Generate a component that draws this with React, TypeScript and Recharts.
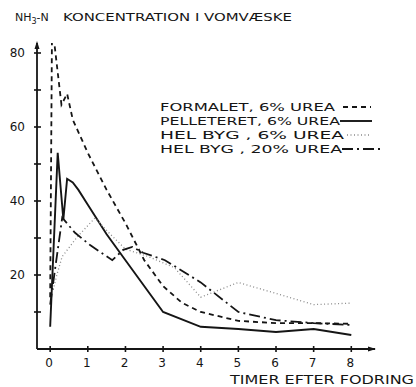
import React from 'react';
import { LineChart, Line, XAxis, YAxis, Legend, ReferenceDot } from 'recharts';

// ---- data (hours after feeding, NH3-N concentration) ----
const formaletT = [0, 0.05, 0.3, 0.45, 0.6, 1, 1.5, 2, 2.5, 3, 3.5, 4, 5, 6, 7, 8];
const formaletV = [14, 88, 66, 69, 62, 53, 43, 34, 24, 17, 12.5, 10, 7.6, 7, 7, 6.8];

const pelleteretT = [0, 0.2, 0.35, 0.45, 0.6, 0.75, 1, 1.5, 2, 3, 4, 5, 6, 7, 8];
const pelleteretV = [6, 53, 35, 46, 45, 43, 39, 31, 24, 10, 6, 5.4, 4.6, 5.4, 3.8];

const helByg6T = [0.08, 0.19, 0.32, 0.72, 1.19, 1.6, 2, 2.6, 3.3, 4, 5, 6, 7, 8];
const helByg6V = [16, 20.5, 25, 30.3, 35.4, 31, 27, 25, 22, 14, 18, 15, 12, 12.4];

const helByg20T = [0, 0.32, 0.66, 1.06, 1.65, 1.94, 2.18, 2.47, 3.05, 4, 5, 6, 7, 8];
const helByg20V = [12, 35.5, 31.4, 28.1, 24, 26.8, 27.6, 26, 24, 18, 10, 7.8, 7, 6.5];

const xTicks = [0, 1, 2, 3, 4, 5, 6, 7, 8];
const yTicks = [10, 20, 30, 40, 50, 60, 70, 80];
const yLabelTicks = [20, 40, 60, 80];

const titleText = 'KONCENTRATION I VOMVÆSKE';
const xAxisTitle = 'TIMER EFTER FODRING';

const INK = '#151515';
const FONT = '"DejaVu Sans", sans-serif';

const toPoints = (t: number[], v: number[]) => t.map((x, i) => ({ t: x, v: v[i] }));

const series = [
  { key: 'formalet', name: 'FORMALET, 6% UREA', data: toPoints(formaletT, formaletV), dash: '5 4', color: INK, width: 1.8, textLen: 175, lineFrom: 343, lineTo: 371 },
  { key: 'pelleteret', name: 'PELLETERET, 6% UREA', data: toPoints(pelleteretT, pelleteretV), dash: undefined, color: INK, width: 1.9, textLen: 180, lineFrom: 340, lineTo: 372 },
  { key: 'helbyg6', name: 'HEL BYG  ,  6% UREA', data: toPoints(helByg6T, helByg6V), dash: '1 2.5', color: '#8a8a8a', width: 1.3, textLen: 184, lineFrom: 347, lineTo: 371 },
  { key: 'helbyg20', name: 'HEL BYG , 20% UREA', data: toPoints(helByg20T, helByg20V), dash: '11 4 2 4', color: INK, width: 1.8, textLen: 182, lineFrom: 342, lineTo: 380 },
];

const legendRowsY = [111, 125, 139, 153];

const YTick = (props: any) => {
  const { x, y, payload } = props;
  const show = yLabelTicks.includes(payload.value);
  return (
    <g>
      <line x1={x - 3} x2={x + 4} y1={y} y2={y} stroke={INK} strokeWidth={1.6} />
      {show && (
        <text x={x - 12} y={y + 4.5} textAnchor="end" fontSize={12} fontFamily={FONT} fill={INK}>
          {payload.value}
        </text>
      )}
    </g>
  );
};

const XTick = (props: any) => {
  const { x, y, payload } = props;
  return (
    <g>
      <line x1={x} x2={x} y1={y - 3} y2={y + 3} stroke={INK} strokeWidth={1.6} />
      <text x={x - 1} y={y + 18} textAnchor="middle" fontSize={12} fontFamily={FONT} fill={INK}>
        {payload.value}
      </text>
    </g>
  );
};

const renderLegend = () => (
  <svg width={266} height={70} style={{ display: 'block', overflow: 'visible' }}>
    {series.map((s, i) => {
      const yb = legendRowsY[i] - 95;
      return (
        <g key={s.key}>
          <text x={10} y={yb} fontSize={11} fontFamily={FONT} fill={INK} textLength={s.textLen} lengthAdjust="spacingAndGlyphs">
            {s.name}
          </text>
          <line x1={s.lineFrom - 150} x2={s.lineTo - 150} y1={yb - 4} y2={yb - 4} stroke={s.color} strokeWidth={s.width} strokeDasharray={s.dash} />
        </g>
      );
    })}
  </svg>
);

const ArrowUp = (props: any) => {
  const { cx, cy } = props;
  return <path d={`M${cx},${cy - 2} L${cx - 2.5},${cy + 6} L${cx + 2.5},${cy + 6} Z`} fill={INK} />;
};
const ArrowRight = (props: any) => {
  const { cx, cy } = props;
  return <path d={`M${cx + 1},${cy} L${cx - 7},${cy - 2.5} L${cx - 7},${cy + 2.5} Z`} fill={INK} />;
};

export default function App() {
  return (
    <div style={{ position: 'absolute', left: 0, top: 0, width: 416, height: 387, background: '#fff', overflow: 'hidden' }}>
      <LineChart width={416} height={387} margin={{ top: 43, right: 41, bottom: 0, left: 0 }}>
        <XAxis
          type="number"
          dataKey="t"
          domain={[-0.35, 8.63]}
          allowDataOverflow
          ticks={xTicks}
          interval={0}
          height={38}
          tickSize={0}
          tickMargin={0}
          tickLine={false}
          tick={<XTick />}
          axisLine={{ stroke: INK, strokeWidth: 1.8 }}
        />
        <YAxis
          type="number"
          dataKey="v"
          domain={[0, 82.7]}
          allowDataOverflow
          ticks={yTicks}
          interval={0}
          width={37}
          tickSize={0}
          tickMargin={0}
          tickLine={false}
          tick={<YTick />}
          axisLine={{ stroke: INK, strokeWidth: 1.8 }}
        />
        {series.map((s) => (
          <Line
            key={s.key}
            data={s.data}
            dataKey="v"
            name={s.name}
            type="linear"
            stroke={s.color}
            strokeWidth={s.width}
            strokeDasharray={s.dash}
            dot={false}
            activeDot={false}
            isAnimationActive={false}
          />
        ))}
        <ReferenceDot x={-0.35} y={82.7} r={0} shape={<ArrowUp />} ifOverflow="visible" />
        <ReferenceDot x={8.63} y={0} r={0} shape={<ArrowRight />} ifOverflow="visible" />
        <Legend
          layout="horizontal"
          verticalAlign="middle"
          align="center"
          content={renderLegend}
          wrapperStyle={{ position: 'absolute', left: 150, top: 95, width: 266, height: 70 }}
        />
      </LineChart>
      <svg width={416} height={387} style={{ position: 'absolute', left: 0, top: 0, pointerEvents: 'none' }}>
        <text x={15} y={21} fontSize={11} fontFamily={FONT} fill={INK}>
          NH<tspan dy={3} fontSize={8}>3</tspan>
          <tspan dy={-3}>-N</tspan>
        </text>
        <text x={63} y={21} fontSize={11} fontFamily={FONT} fill={INK} textLength={229} lengthAdjust="spacingAndGlyphs">
          {titleText}
        </text>
        <text x={230} y={384} fontSize={12} fontFamily={FONT} fill={INK} textLength={184} lengthAdjust="spacingAndGlyphs">
          {xAxisTitle}
        </text>
      </svg>
    </div>
  );
}
